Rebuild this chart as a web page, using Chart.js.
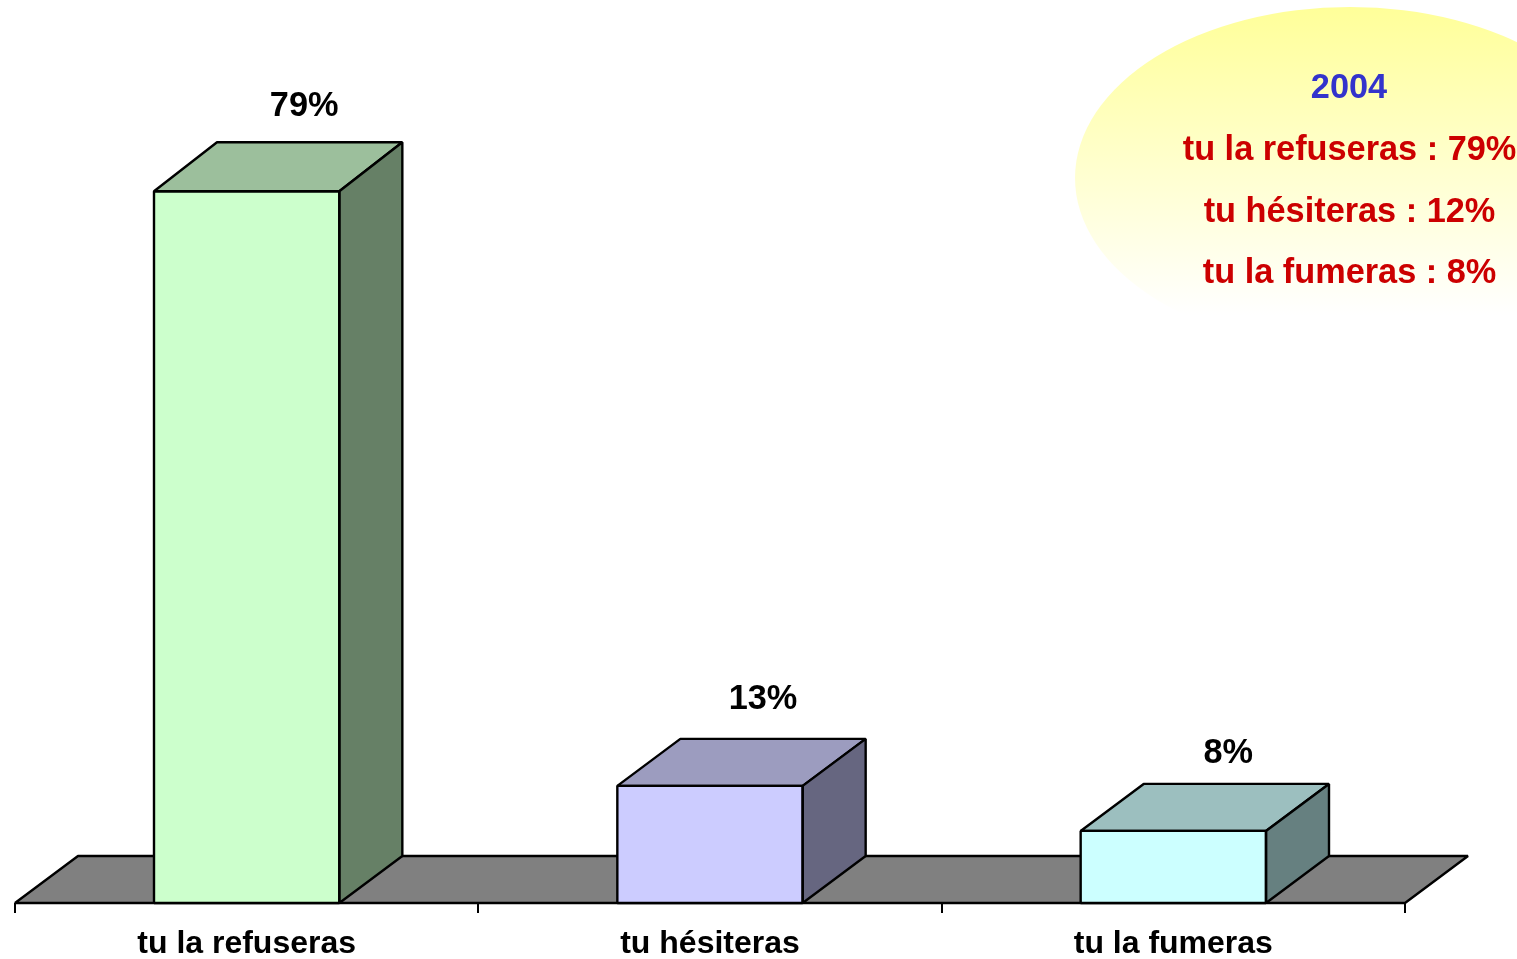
<!DOCTYPE html>
<html lang="fr">
<head>
<meta charset="utf-8">
<title>tu la refuseras</title>
<style>html,body{margin:0;padding:0;background:#fff}canvas{display:block}</style>
<script src="https://cdn.jsdelivr.net/npm/chart.js@4"></script>
</head>
<body>
<canvas id="c" width="1517" height="959"></canvas>
<script>
const categories = ['tu la refuseras', 'tu hésiteras', 'tu la fumeras'];
const values = [79, 13, 8];
const valueLabels = ['79%', '13%', '8%'];
const frontColors = ['#CCFFCC', '#CCCCFF', '#CCFFFF'];
const topColors = ['#9CBF9C', '#9C9CBF', '#9CBFBF'];
const sideColors = ['#668066', '#666680', '#668080'];
const noteTitle = '2004';
const noteLines = ['tu la refuseras : 79%', 'tu hésiteras : 12%', 'tu la fumeras : 8%'];

const FONT = '"Liberation Sans", Arial, sans-serif';
const DX = 63, FLOOR_DY = 47;
const barDepthY = [49, 47, 47];
const labelOffsets = [[57.5, -85], [53, -86], [55, -77]];
const LINE = 2.4;

function poly(ctx, pts, fill) {
  ctx.beginPath();
  pts.forEach((p, i) => i ? ctx.lineTo(p[0], p[1]) : ctx.moveTo(p[0], p[1]));
  ctx.closePath();
  ctx.fillStyle = fill;
  ctx.fill();
  ctx.stroke();
}

const bars3d = {
  id: 'bars3d',
  beforeDatasetsDraw(chart) {
    const { ctx, chartArea: a } = chart;
    ctx.save();
    ctx.strokeStyle = '#000'; ctx.lineWidth = LINE; ctx.lineJoin = 'bevel';
    poly(ctx, [[a.left, a.bottom], [a.left + DX, a.bottom - FLOOR_DY], [a.right + DX, a.bottom - FLOOR_DY], [a.right, a.bottom]], '#808080');
    ctx.restore();
  },
  afterDatasetsDraw(chart) {
    const { ctx } = chart;
    ctx.save();
    ctx.strokeStyle = '#000'; ctx.lineWidth = LINE; ctx.lineJoin = 'bevel';
    chart.getDatasetMeta(0).data.forEach((b, i) => {
      const l = b.x - b.width / 2, r = b.x + b.width / 2, t = b.y, bt = b.base, dy = barDepthY[i];
      poly(ctx, [[l, t], [l + DX, t - dy], [r + DX, t - dy], [r, t]], topColors[i]);
      poly(ctx, [[r, t], [r + DX, t - dy], [r + DX, bt - FLOOR_DY], [r, bt]], sideColors[i]);
      ctx.strokeRect(l, t, r - l, bt - t);
      ctx.fillStyle = '#000';
      ctx.font = 'bold 34.3px ' + FONT;
      ctx.textAlign = 'center'; ctx.textBaseline = 'middle';
      ctx.fillText(valueLabels[i], b.x + labelOffsets[i][0], t + labelOffsets[i][1]);
    });
    ctx.restore();
  },
  afterDraw(chart) {
    const { ctx } = chart;
    ctx.save();
    const g = ctx.createLinearGradient(0, 7, 0, 315);
    g.addColorStop(0, '#FFFF99');
    g.addColorStop(1, '#FFFFFF');
    ctx.beginPath();
    ctx.ellipse(1350, 178, 275, 171, 0, 0, Math.PI * 2);
    ctx.fillStyle = g;
    ctx.fill();
    ctx.font = 'bold 34.3px ' + FONT;
    ctx.textAlign = 'center'; ctx.textBaseline = 'middle';
    ctx.fillStyle = '#3333CC';
    ctx.fillText(noteTitle, 1349, 89);
    ctx.fillStyle = '#CC0000';
    noteLines.forEach((s, i) => ctx.fillText(s, 1349.5, 151 + i * 61.5));
    ctx.restore();
  }
};

new Chart(document.getElementById('c'), {
  type: 'bar',
  data: {
    labels: categories,
    datasets: [{ data: values, backgroundColor: frontColors, borderWidth: 0, barPercentage: 0.4, categoryPercentage: 1 }]
  },
  plugins: [bars3d],
  options: {
    responsive: false,
    animation: false,
    layout: { padding: { left: 15, right: 112, top: 2, bottom: 0 } },
    plugins: { legend: { display: false }, tooltip: { enabled: false }, title: { display: false } },
    scales: {
      x: {
        afterFit(s) { s.height = 56; },
        border: { display: false },
        grid: { color: '#000', lineWidth: 2, drawOnChartArea: false, drawTicks: true, tickLength: 10, offset: true },
        ticks: { color: '#000', font: { family: FONT, size: 32, weight: 'bold' }, padding: 12, maxRotation: 0, autoSkip: false }
      },
      y: { display: false, min: 0, max: 100 }
    }
  }
});
</script>
</body>
</html>
